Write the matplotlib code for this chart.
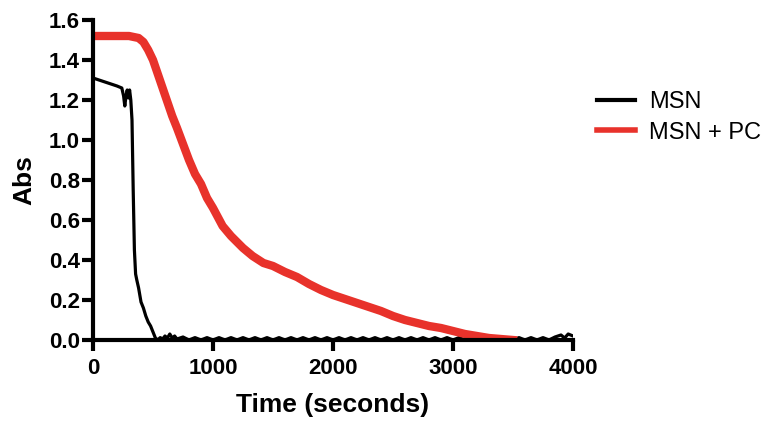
import matplotlib
matplotlib.use("Agg")
import matplotlib.pyplot as plt

# --- data --------------------------------------------------------------------
msn_t = [0, 50, 100, 150, 200, 240, 255, 265, 275, 285, 295, 305, 315, 325,
         335, 345, 355, 365, 380, 400, 420, 440, 460, 480, 500, 520, 540,
         560, 580, 600, 620, 640, 660, 680, 700, 750, 800, 850, 900, 950,
         1000, 1050, 1100, 1150, 1200, 1250, 1300, 1350, 1400, 1450, 1500,
         1550, 1600, 1650, 1700, 1750, 1800, 1850, 1900, 1950, 2000, 2050,
         2100, 2150, 2200, 2250, 2300, 2350, 2400, 2450, 2500, 2550, 2600,
         2650, 2700, 2750, 2800, 2850, 2900, 2950, 3000, 3050, 3100, 3150,
         3200, 3250, 3300, 3350, 3400, 3450, 3500, 3550, 3600, 3650, 3700,
         3750, 3800, 3850, 3900, 3930, 3960, 4000]
msn_abs = [1.31, 1.30, 1.29, 1.28, 1.27, 1.26, 1.22, 1.17, 1.22, 1.25, 1.21,
           1.25, 1.20, 1.10, 0.75, 0.45, 0.33, 0.30, 0.26, 0.19, 0.16, 0.12,
           0.09, 0.07, 0.04, 0.01, 0.0, 0.012, 0.005, 0.02, 0.01, 0.03,
           0.01, 0.02, 0.005, 0.015, 0.0, 0.012, 0.0, 0.012, 0.0, 0.012,
           0.0, 0.012, 0.0, 0.012, 0.0, 0.012, 0.0, 0.012, 0.0, 0.012, 0.0,
           0.012, 0.0, 0.012, 0.0, 0.012, 0.0, 0.012, 0.0, 0.012, 0.0, 0.012,
           0.0, 0.012, 0.0, 0.012, 0.0, 0.012, 0.0, 0.012, 0.0, 0.012, 0.0,
           0.012, 0.0, 0.012, 0.0, 0.012, 0.0, 0.012, 0.0, 0.012, 0.0, 0.012,
           0.0, 0.012, 0.0, 0.012, 0.0, 0.012, 0.0, 0.012, 0.0, 0.012, 0.0,
           0.015, 0.025, 0.01, 0.03, 0.02]

pc_t = [0, 100, 200, 300, 380, 420, 460, 500, 540, 580, 620, 660, 700, 750,
        800, 850, 900, 950, 1000, 1080, 1150, 1250, 1330, 1420, 1500, 1600,
        1700, 1800, 1900, 2000, 2100, 2200, 2300, 2400, 2500, 2600, 2700,
        2800, 2900, 3000, 3100, 3200, 3300, 3400, 3500]
pc_abs = [1.52, 1.52, 1.52, 1.52, 1.51, 1.49, 1.45, 1.40, 1.33, 1.26, 1.19,
          1.12, 1.06, 0.98, 0.90, 0.83, 0.78, 0.71, 0.66, 0.57, 0.52, 0.46,
          0.42, 0.385, 0.37, 0.34, 0.315, 0.28, 0.25, 0.225, 0.205, 0.185,
          0.165, 0.145, 0.12, 0.10, 0.085, 0.07, 0.06, 0.045, 0.03, 0.02,
          0.01, 0.005, 0.0]

series_labels = ["MSN", "MSN + PC"]
x_ticks = [0, 1000, 2000, 3000, 4000]
y_ticks = [0.0, 0.2, 0.4, 0.6, 0.8, 1.0, 1.2, 1.4, 1.6]

plt.rcParams["font.family"] = ["Liberation Sans", "DejaVu Sans"]

fig = plt.figure(figsize=(7.71, 4.21), dpi=100)
ax = fig.add_axes([93 / 771, 1 - 340 / 421, 480 / 771, 320 / 421])

ax.plot(msn_t, msn_abs, color="black", lw=2.3, label=series_labels[0])
ax.plot(pc_t, pc_abs, color="#e8322b", lw=6.0, label=series_labels[1])

ax.set_xlim(0, 4000)
ax.set_ylim(0, 1.6)
ax.set_xticks(x_ticks)
ax.set_yticks(y_ticks)
ax.set_yticklabels([f"{v:.1f}" for v in y_ticks])

for side in ("top", "right"):
    ax.spines[side].set_visible(False)
for side in ("left", "bottom"):
    ax.spines[side].set_linewidth(3)
ax.tick_params(width=3, length=8, labelsize=16, pad=1.5)
ax.tick_params(axis="x", pad=5)
for lab in ax.get_xticklabels() + ax.get_yticklabels():
    lab.set_fontweight("bold")

ax.set_xlabel("Time (seconds)", fontsize=19, fontweight="bold", labelpad=10)
ax.set_ylabel("Abs", fontsize=19, fontweight="bold", labelpad=9)

leg = fig.legend(loc="upper left", bbox_to_anchor=(576 / 771, 1 - 70 / 421),
                 frameon=False, fontsize=17, handlelength=1.6,
                 handletextpad=0.6, labelspacing=0.35)
for line in leg.get_lines():
    line.set_linewidth(3)
leg.get_lines()[1].set_linewidth(4)

fig.savefig("out.png", dpi=100)
